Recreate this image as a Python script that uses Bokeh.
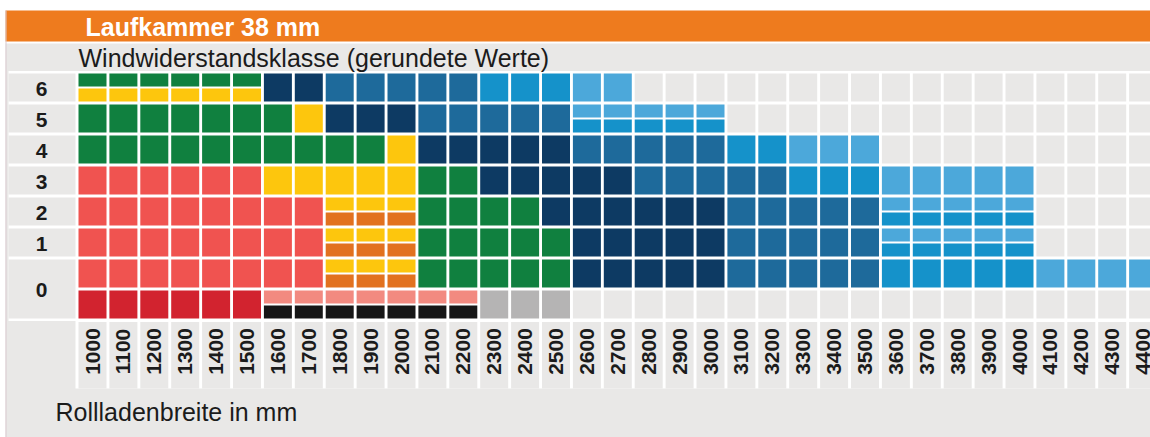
import math
from bokeh.plotting import figure
from bokeh.models import Range1d, ColumnDataSource
from bokeh.core.properties import value
from bokeh.embed import file_html
from bokeh.resources import INLINE

# ---------------- data ----------------
title = "Laufkammer 38 mm"
subtitle = "Windwiderstandsklasse (gerundete Werte)"
x_title = "Rollladenbreite in mm"

widths = ["1000", "1100", "1200", "1300", "1400", "1500", "1600", "1700", "1800",
          "1900", "2000", "2100", "2200", "2300", "2400", "2500", "2600", "2700",
          "2800", "2900", "3000", "3100", "3200", "3300", "3400", "3500", "3600",
          "3700", "3800", "3900", "4000", "4100", "4200", "4300", "4400"]

classes = ["6", "5", "4", "3", "2", "1", "0"]
class_rows = [[0], [1], [2], [3], [4], [5], [6, 7]]

# each row: runs of (cell code, number of columns); "A/B" = upper/lower half
row_6 = [("G/Y", 6), ("N", 2), ("B1", 5), ("B2", 3), ("B3", 2), ("-", 17)]
row_5 = [("G", 7), ("Y", 1), ("N", 3), ("B1", 5), ("B3/B2", 5), ("-", 14)]
row_4 = [("G", 10), ("Y", 1), ("N", 5), ("B1", 5), ("B2", 2), ("B3", 3), ("-", 9)]
row_3 = [("R", 6), ("Y", 5), ("G", 2), ("N", 5), ("B1", 5), ("B2", 3), ("B3", 5), ("-", 4)]
row_2 = [("R", 8), ("Y/O", 3), ("G", 4), ("N", 6), ("B1", 5), ("B3/B2", 5), ("-", 4)]
row_1 = [("R", 8), ("Y/O", 3), ("G", 5), ("N", 5), ("B1", 5), ("B3/B2", 5), ("-", 4)]
row_0a = [("R", 8), ("Y/O", 3), ("G", 5), ("N", 5), ("B1", 5), ("B2", 5), ("B3", 4)]
row_0b = [("DR", 6), ("P/K", 7), ("Gr", 3), ("-", 19)]
rows = [row_6, row_5, row_4, row_3, row_2, row_1, row_0a, row_0b]

palette = {"G": "#10803f", "Y": "#fdc60d", "R": "#f05350", "DR": "#d2232f",
           "O": "#e2721f", "P": "#f28a80", "K": "#161616", "Gr": "#b5b4b4",
           "N": "#0d3a63", "B1": "#1e6a9b", "B2": "#1592ca", "B3": "#4ca8da",
           "-": "#e9e8e7"}
PANEL = "#e9e8e7"
ORANGE = "#ee7b1e"

# ---------------- layout (page pixels) ----------------
W, H = 1150, 437
OFF = 0
PX0, PITCH_X, CELL_W = 78.0, 30.9, 28.0
PY0, PITCH_Y, CELL_H, HALF = 73.0, 31.0, 28.0, 13.0
FONT = "Liberation Sans"


def X(px):
    return (px - PX0) / PITCH_X


def Y(py):
    return (py - PY0) / PITCH_Y


p = figure(width=W, height=H, output_backend="svg", toolbar_location=None,
           x_range=Range1d(X(OFF), X(OFF + W)), y_range=Range1d(Y(OFF + H), Y(OFF)),
           x_axis_location=None, y_axis_location=None, min_border=0,
           outline_line_color=None, background_fill_color="white",
           border_fill_color="white")
p.xgrid.visible = False
p.ygrid.visible = False

# background panels
bg = dict(l=[], r=[], t=[], b=[], c=[])


def add(d, l, r, t, b, c):
    d["l"].append(l); d["r"].append(r); d["t"].append(t); d["b"].append(b); d["c"].append(c)


xl, xr = X(5), X(W)
add(bg, xl, xr, Y(43), Y(H), PANEL)
add(bg, xl, xr, Y(10), Y(41), ORANGE)
add(bg, X(8), xr, Y(70.5), Y(320.5), "white")
add(bg, X(75), xr, Y(318), Y(388), "white")
add(bg, X(5), X(6), Y(10), Y(H), "#d9c9cf")
for rr in class_rows:
    add(bg, X(8), X(75), rr[0], rr[-1] + CELL_H / PITCH_Y, PANEL)
for k in range(len(widths)):
    add(bg, k, k + CELL_W / PITCH_X, Y(321.5), Y(388), PANEL)
p.quad(left="l", right="r", top="t", bottom="b", fill_color="c", line_color=None,
       source=ColumnDataSource(bg))

# cells
cells = dict(l=[], r=[], t=[], b=[], c=[])
cw = CELL_W / PITCH_X
for r, runs in enumerate(rows):
    k = 0
    for code, n in runs:
        for _ in range(n):
            if "/" in code:
                up, lo = code.split("/")
                add(cells, k, k + cw, r, r + HALF / PITCH_Y, palette[up])
                add(cells, k, k + cw, r + (CELL_H - HALF) / PITCH_Y, r + CELL_H / PITCH_Y, palette[lo])
            else:
                add(cells, k, k + cw, r, r + CELL_H / PITCH_Y, palette[code])
            k += 1
p.quad(left="l", right="r", top="t", bottom="b", fill_color="c", line_color=None,
       source=ColumnDataSource(cells))

# texts
p.text(x=[X(85)], y=[Y(26)], text=[title], text_color="white", text_font=value(FONT),
       text_font_style="bold", text_font_size="25px", text_baseline="middle", text_align="left")
p.text(x=[X(78)], y=[Y(57)], text=[subtitle], text_color="#1b1b1b", text_font=value(FONT),
       text_font_size="25px", text_baseline="middle", text_align="left")
p.text(x=[X(55)], y=[Y(411)], text=[x_title], text_color="#1b1b1b", text_font=value(FONT),
       text_font_size="25px", text_baseline="middle", text_align="left")

ry = [(rr[0] + rr[-1] + CELL_H / PITCH_Y) / 2 + 1 / PITCH_Y for rr in class_rows]
p.text(x=[X(41)] * len(classes), y=ry, text=classes, text_color="#1b1b1b",
       text_font=value(FONT), text_font_style="bold", text_font_size="21px",
       text_baseline="middle", text_align="center")

tx = [k + (CELL_W / 2) / PITCH_X for k in range(len(widths))]
p.text(x=tx, y=[Y(351)] * len(widths), text=widths, angle=math.pi / 2,
       text_color="#1b1b1b", text_font=value(FONT), text_font_style="bold",
       text_font_size="21px", text_baseline="middle", text_align="center")

open("out.html", "w").write(file_html(p, INLINE))
